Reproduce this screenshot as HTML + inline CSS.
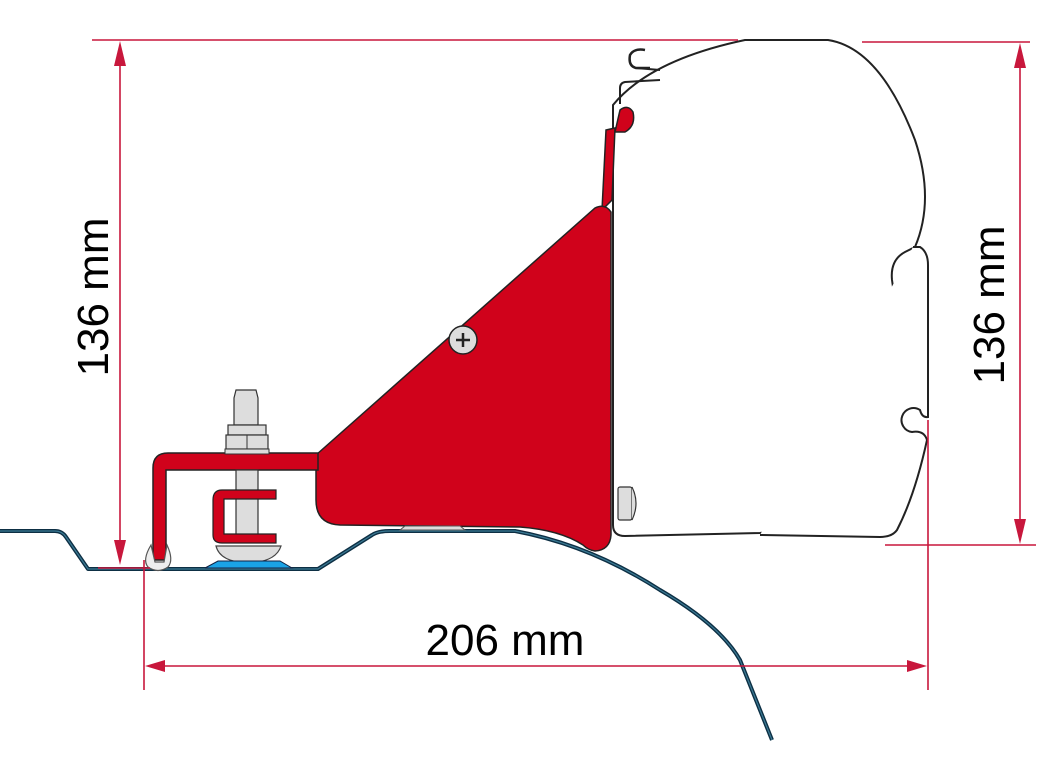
<!DOCTYPE html>
<html><head><meta charset="utf-8"><style>
html,body{margin:0;padding:0;background:#fff;}
svg{display:block;}
text{font-family:"Liberation Sans",sans-serif;fill:#000;}
</style></head><body>
<svg width="1039" height="779" viewBox="0 0 1039 779" xmlns="http://www.w3.org/2000/svg">
<!-- ground profile -->
<path d="M0,531 L55,531 Q62,531 66,537 L88,569 L318,569 L372,535 Q378,531 390,531 L515,531 Q590,545 660,590 Q720,625 740,660 L772,740" fill="none" stroke="#0d2f44" stroke-width="4" stroke-linejoin="round"/>
<path d="M0,531 L55,531 Q62,531 66,537 L88,569 L318,569 L372,535 Q378,531 390,531 L515,531 Q590,545 660,590 Q720,625 740,660 L772,740" fill="none" stroke="#3b7a94" stroke-width="1.2" stroke-linejoin="round"/>

<!-- awning body -->
<path d="M613,105 Q650,60 745,40 L828,40 Q880,48 915,140 Q935,200 915,247 L905,252 Q890,260 892,280 Q900,330 896,370 Q888,440 873,493 Q868,515 853,518 L760,533 L625,536 Q613,536 613,525 Z" fill="#fff" stroke="#222" stroke-width="2"/>
<path d="M913,247 L920,247 Q928,252 928,265 L928,417 Q922,418 920,410 A12,12 0 1 0 912,432 Q924,430 927,440 Q915,495 897,530 Q892,537 880,537 L760,535" fill="#fff" stroke="#222" stroke-width="2"/>
<path d="M620,104 L620,88 Q620,83 625,82 L660,80" fill="none" stroke="#222" stroke-width="2"/>
<path d="M650,68 L636,68 Q628,66 630,55 Q634,48 645,50" fill="none" stroke="#222" stroke-width="2.5"/>
<path d="M636,68 L660,70" fill="none" stroke="#222" stroke-width="2"/>
<!-- awning screw -->
<rect x="618" y="487" width="14" height="33" rx="2" fill="#ddd" stroke="#333" stroke-width="1.2"/>
<path d="M632,487 Q640,503 632,520" fill="#ddd" stroke="#333" stroke-width="1.2"/>

<!-- red upper strip -->
<path d="M606,130 L615,128 L612,200 L602,210 Z" fill="#d0021b" stroke="#222" stroke-width="1.5"/>
<path d="M620,110 Q628,104 633,112 Q636,126 625,132 L615,132 Z" fill="#d0021b" stroke="#222" stroke-width="1.5"/>

<!-- red bracket -->
<path d="M316,455 L595,208 Q605,203 611,212 L611,535 Q610,550 595,551 Q588,550 583,545 Q560,530 520,527 L340,525 Q316,524 316,500 Z" fill="#d0021b" stroke="#222" stroke-width="1.5"/>
<path d="M318,453 L168,453 Q153,453 153,468 L153,560 L166,560 L166,470 L318,470 Z" fill="#d0021b" stroke="#222" stroke-width="1.5"/>
<!-- clip at bottom of arm -->
<path d="M151,545 Q142,560 148,567 Q158,574 168,567 Q174,560 167,545 L164,562 L155,562 Z" fill="#eee" stroke="#555" stroke-width="1.2"/>
<!-- bottom feet -->
<path d="M405,526 L460,526 L465,530 L400,530 Z" fill="#ddd" stroke="#555" stroke-width="1"/>

<!-- screw -->
<circle cx="463" cy="340" r="14" fill="#ddd" stroke="#222" stroke-width="1.5"/>
<path d="M456,340 L470,340 M463,333 L463,347" stroke="#222" stroke-width="2.5"/>

<!-- bolt -->
<path d="M236,390 L256,390 L258,398 L258,425 L234,425 L234,398 Z" fill="#ddd" stroke="#333" stroke-width="1.2"/>
<rect x="228" y="425" width="38" height="10" fill="#ddd" stroke="#333" stroke-width="1.2"/>
<rect x="226" y="435" width="42" height="14" fill="#ddd" stroke="#333" stroke-width="1.2"/>
<line x1="247" y1="435" x2="247" y2="449" stroke="#333" stroke-width="1"/>
<rect x="225" y="449" width="44" height="5" fill="#ddd" stroke="#333" stroke-width="1"/>
<rect x="236" y="470" width="22" height="65" fill="#ddd" stroke="#333" stroke-width="1.2"/>
<!-- C clip -->
<path d="M276,490 L222,490 Q213,490 213,500 L213,535 Q213,543 222,543 L276,543 L276,534 L224,534 L224,499 L276,499 Z" fill="#d0021b" stroke="#222" stroke-width="1.2"/>
<!-- washer dome -->
<path d="M216,546 L281,546 Q276,562 248,563 Q220,562 216,546 Z" fill="#ddd" stroke="#444" stroke-width="1.2"/>
<path d="M205,568 L218,561 L280,561 L292,568 Z" fill="#1aa3e6" stroke="#124" stroke-width="1"/>

<!-- dimensions -->
<g stroke="#c8173c" stroke-width="1.6" fill="none">
<line x1="92" y1="40" x2="738" y2="40"/>
<line x1="120" y1="48" x2="120" y2="555"/>
<line x1="98" y1="568" x2="150" y2="568"/>
<line x1="862" y1="42" x2="1030" y2="42"/>
<line x1="1020" y1="50" x2="1020" y2="536"/>
<line x1="885" y1="545" x2="1036" y2="545"/>
<line x1="144" y1="560" x2="144" y2="690"/>
<line x1="928" y1="420" x2="928" y2="690"/>
<line x1="158" y1="666" x2="915" y2="666"/>
</g>
<g fill="#c8173c">
<path d="M120,41 L114,66 L126,66 Z"/>
<path d="M120,565 L114,540 L126,540 Z"/>
<path d="M1020,43 L1014,68 L1026,68 Z"/>
<path d="M1020,544 L1014,519 L1026,519 Z"/>
<path d="M145,666 L165,660 L165,672 Z"/>
<path d="M927,666 L907,660 L907,672 Z"/>
</g>
<text x="0" y="0" font-size="44" text-anchor="middle" transform="translate(108,297) rotate(-90)">136 mm</text>
<text x="0" y="0" font-size="44" text-anchor="middle" transform="translate(1004,305) rotate(-90)">136 mm</text>
<text x="505" y="655" font-size="44" text-anchor="middle">206 mm</text>
</svg>
</body></html>
